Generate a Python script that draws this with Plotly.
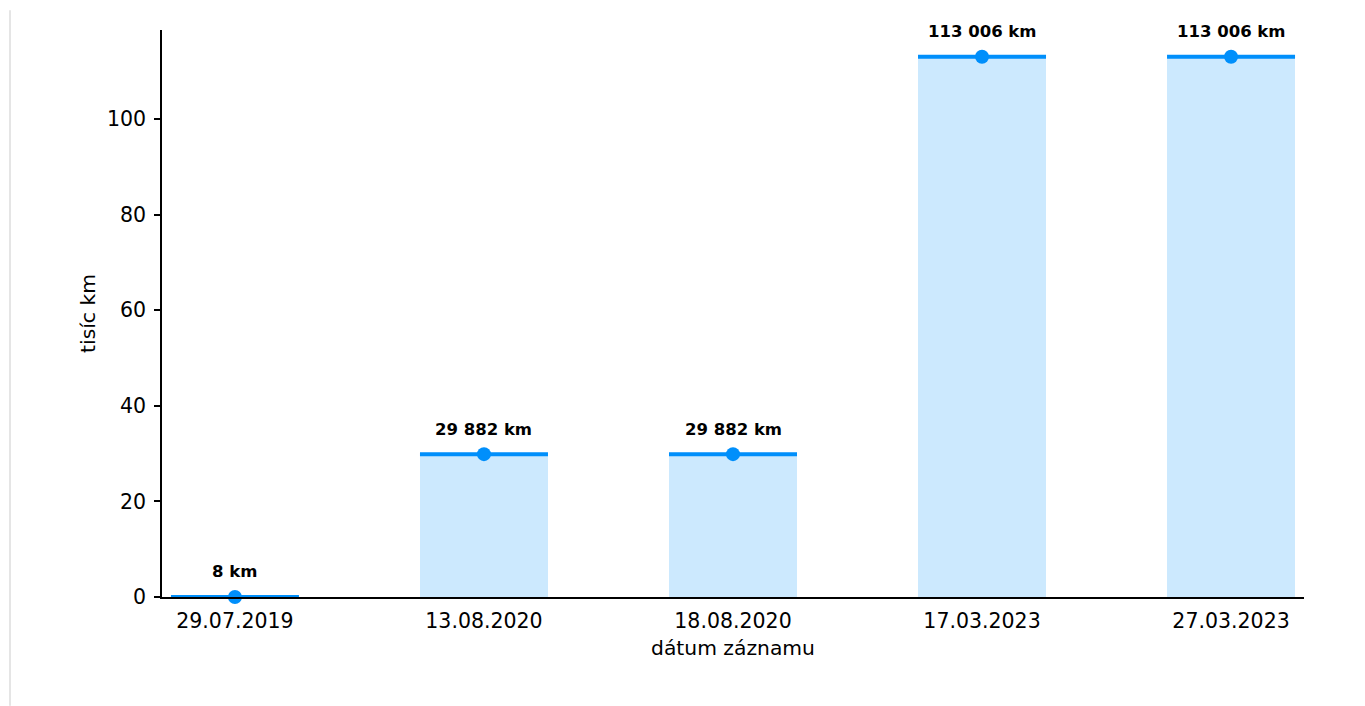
import plotly.graph_objects as go

# data (distance in thousands of km)
dates = ['29.07.2019', '13.08.2020', '18.08.2020', '17.03.2023', '27.03.2023']
km = [8, 29882, 29882, 113006, 113006]
km_thousands = [v / 1000 for v in km]
labels = [f"{v:,} km".replace(',', ' ') for v in km]

LINE_BLUE = '#008FFB'
BAR_BLUE = 'rgba(0,143,251,0.2)'
FONT = 'DejaVu Sans'

fig = go.Figure()

fig.add_trace(go.Bar(
    x=dates,
    y=km_thousands,
    width=0.515,
    marker=dict(color=BAR_BLUE, line=dict(width=0)),
    hoverinfo='skip',
))

# thick top line + dot on each bar
fig.add_trace(go.Scatter(
    x=dates,
    y=km_thousands,
    mode='markers',
    marker=dict(color=LINE_BLUE, size=14),
    error_y=dict(type='constant', value=0, width=64, thickness=4, color=LINE_BLUE),
    cliponaxis=False,
))

for d, v, t in zip(dates, km_thousands, labels):
    fig.add_annotation(
        x=d, y=v, text=f"<b>{t}</b>", showarrow=False,
        yshift=25, yanchor='middle',
        font=dict(family=FONT, size=16.5, color='black'),
    )

# thin grey frame line on the left edge of the container
fig.add_shape(
    type='line', xref='paper', yref='paper',
    x0=-0.1331, x1=-0.1331, y0=1.035, y1=-0.192,
    line=dict(color='#e5e5e5', width=2),
)

# page body has an 8px margin, so the figure is shrunk by that much
fig.update_layout(
    width=1357,
    height=698,
    showlegend=False,
    plot_bgcolor='white',
    paper_bgcolor='white',
    bargap=0,
    margin=dict(l=154, r=61, t=22, b=109),
    font=dict(family=FONT, size=20.5, color='black'),
)

fig.update_xaxes(
    type='category',
    range=[-0.293, 4.293],
    showline=True, linecolor='black', linewidth=1.5,
    showgrid=False, ticks='', zeroline=False,
    ticklabelstandoff=5,
    title=dict(text='dátum záznamu', standoff=8, font=dict(size=20.3)),
    tickfont=dict(size=20.5),
)

fig.update_yaxes(
    range=[0, 118.6],
    dtick=20,
    showline=True, linecolor='black', linewidth=1.5,
    showgrid=False, zeroline=False,
    ticks='outside', ticklen=6, tickwidth=1.5, tickcolor='black',
    ticklabelstandoff=4,
    title=dict(text='tisíc km', standoff=6, font=dict(size=20.3)),
    tickfont=dict(size=20.5),
)

fig.write_html("out.html")
